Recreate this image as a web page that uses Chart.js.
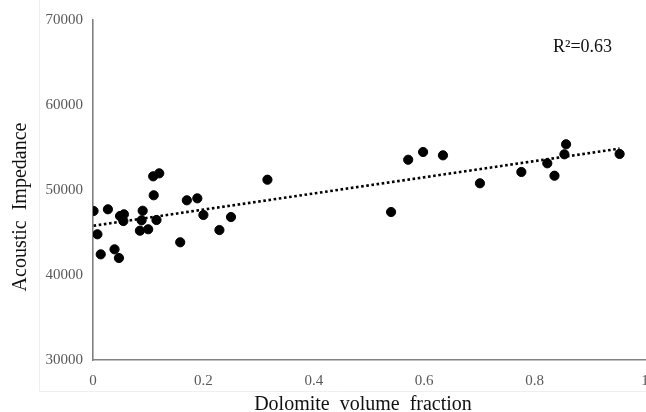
<!DOCTYPE html>
<html>
<head>
<meta charset="utf-8">
<script src="https://cdn.jsdelivr.net/npm/chart.js@4/dist/chart.umd.min.js"></script>
<style>
  html, body { margin: 0; padding: 0; background: #fff; }
  #wrap { width: 646px; height: 412px; }
</style>
</head>
<body>
<div id="wrap"><canvas id="scatter-chart"></canvas></div>
<script>
// Valores
const fracaoDolomita = [
  0.001, 0.008, 0.014, 0.027, 0.039, 0.047, 0.049, 0.056, 0.055,
  0.090, 0.088, 0.085, 0.100, 0.110, 0.109, 0.120, 0.115, 0.158,
  0.170, 0.189, 0.200, 0.229, 0.250, 0.316, 0.540, 0.571, 0.598,
  0.634, 0.701, 0.776, 0.823, 0.836, 0.857, 0.854, 0.954
];
const impedancia = [
  47530, 44790, 42430, 47730, 43020, 42000, 46940, 47140, 46350,
  47560, 46430, 45210, 45380, 49380, 51610, 51960, 46470, 43850,
  48790, 49020, 47060, 45290, 46820, 51210, 47410, 53560, 54470,
  54080, 50790, 52120, 53140, 51680, 55380, 54200, 54240
];
const ticksX = [0, 0.2, 0.4, 0.6, 0.8, 1];
const ticksY = [30000, 40000, 50000, 60000, 70000];
const textoR2 = 'R²=0.63';

// Regressão linear simples para a linha de tendência
const n = fracaoDolomita.length;
const mediaX = fracaoDolomita.reduce((a, b) => a + b, 0) / n;
const mediaY = impedancia.reduce((a, b) => a + b, 0) / n;
let sxy = 0, sxx = 0;
for (let i = 0; i < n; i++) {
  sxy += (fracaoDolomita[i] - mediaX) * (impedancia[i] - mediaY);
  sxx += (fracaoDolomita[i] - mediaX) ** 2;
}
const inclinacao = sxy / sxx;
const intercepto = mediaY - inclinacao * mediaX;
const xMin = Math.min(...fracaoDolomita);
const xMax = Math.max(...fracaoDolomita);
const tendencia = [xMin, xMax].map(x => ({ x, y: intercepto + inclinacao * x }));

const pontos = fracaoDolomita.map((x, i) => ({ x, y: impedancia[i] }));

const fonte = 'Liberation Serif, Times New Roman, serif';

// Textos extras: títulos dos eixos, R² e moldura clara
const textosExtras = {
  id: 'textosExtras',
  beforeDraw(chart) {
    const { ctx } = chart;
    ctx.save();
    ctx.strokeStyle = '#efefef';
    ctx.lineWidth = 1;
    ctx.beginPath();
    ctx.moveTo(39.5, 0);
    ctx.lineTo(39.5, 391.5);
    ctx.lineTo(646, 391.5);
    ctx.stroke();
    ctx.restore();
  },
  afterDraw(chart) {
    const { ctx } = chart;
    ctx.save();
    ctx.fillStyle = '#111';
    ctx.font = '20px ' + fonte;
    ctx.textAlign = 'center';
    ctx.textBaseline = 'alphabetic';
    ctx.fillText('Dolomite  volume  fraction', 363, 410);
    ctx.translate(26, 207);
    ctx.rotate(-Math.PI / 2);
    ctx.fillText('Acoustic  Impedance', 0, 0);
    ctx.restore();

    ctx.save();
    ctx.fillStyle = '#111';
    ctx.font = '18px ' + fonte;
    ctx.textAlign = 'left';
    ctx.fillText(textoR2, 553, 52);
    ctx.restore();
  }
};

const ctx = document.getElementById('scatter-chart').getContext('2d');

const grafico = new Chart(ctx, {
  type: 'scatter',
  data: {
    datasets: [
      {
        label: 'Dados',
        data: pontos,
        backgroundColor: '#000',
        borderColor: '#000',
        pointRadius: 4.6,
        pointHoverRadius: 4.6,
        order: 0
      },
      {
        type: 'line',
        label: 'Tendência',
        data: tendencia,
        borderColor: '#000',
        borderWidth: 2.6,
        borderDash: [2.6, 2.6],
        pointRadius: 0,
        fill: false,
        order: 1
      }
    ]
  },
  options: {
    responsive: true,
    maintainAspectRatio: false,
    animation: false,
    layout: { autoPadding: false, padding: { top: 20, right: 1, bottom: 0, left: 0 } },
    plugins: {
      legend: { display: false },
      tooltip: { enabled: false }
    },
    scales: {
      x: {
        type: 'linear',
        min: 0,
        max: 1,
        grid: { display: false, drawTicks: false },
        border: { display: true, color: '#808080', width: 1.6 },
        afterBuildTicks: (s) => { s.ticks = ticksX.map(v => ({ value: v })); },
        afterFit: (s) => { s.height = 52; s.paddingRight = 0; s.paddingLeft = 0; },
        ticks: {
          padding: 12,
          color: '#595959',
          font: { family: fonte, size: 15 },
          maxRotation: 0,
          callback: (v) => String(v)
        }
      },
      y: {
        type: 'linear',
        min: 30000,
        max: 70000,
        grid: { display: false, drawTicks: false },
        border: { display: true, color: '#808080', width: 1.6 },
        afterBuildTicks: (s) => { s.ticks = ticksY.map(v => ({ value: v })); },
        afterFit: (s) => { s.width = 93; },
        ticks: {
          padding: 10,
          color: '#595959',
          font: { family: fonte, size: 15 },
          callback: (v) => String(v)
        }
      }
    }
  },
  plugins: [textosExtras]
});
</script>
</body>
</html>
